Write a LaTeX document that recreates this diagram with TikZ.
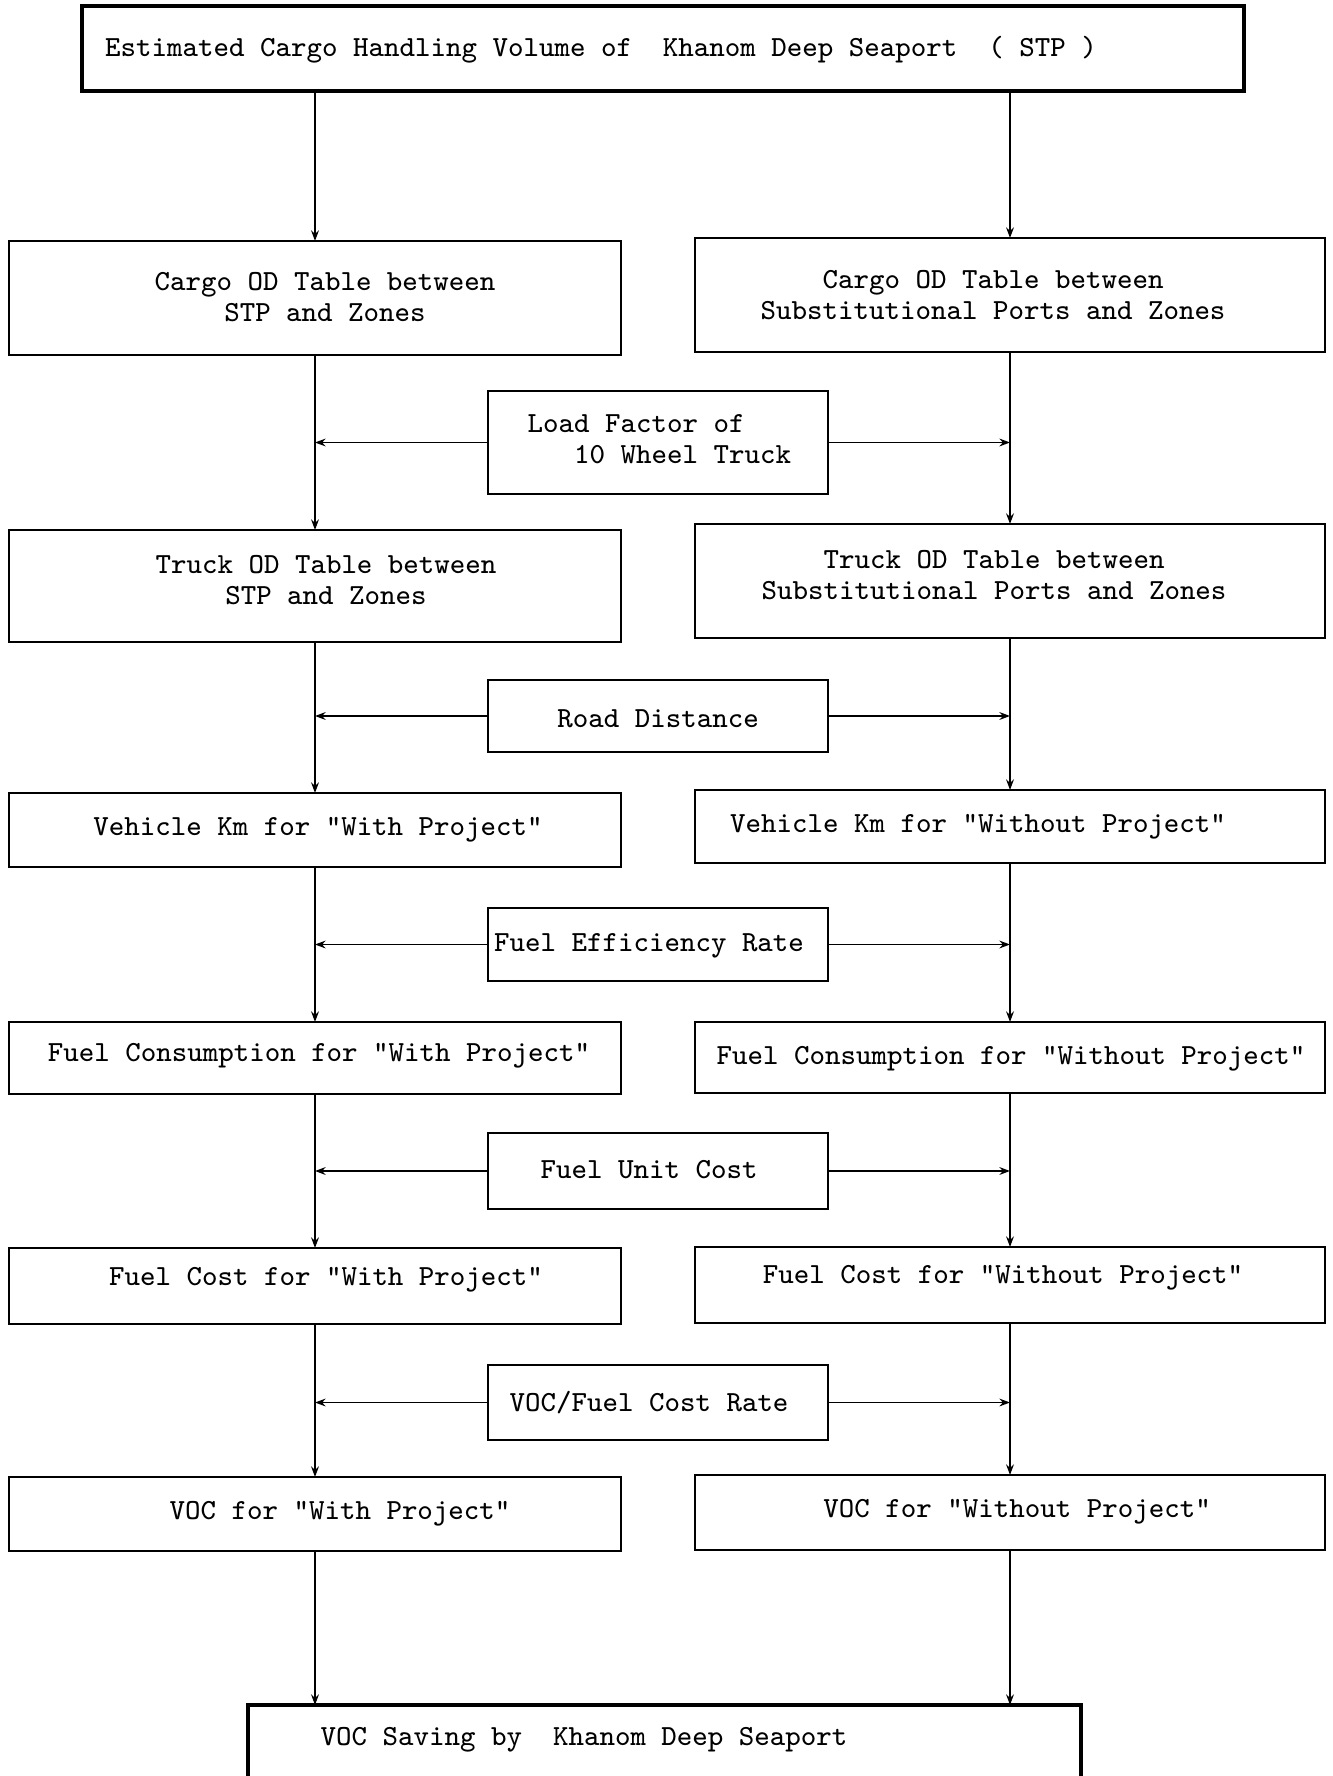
\documentclass[tikz,border=0pt]{standalone}
\usepackage{fontspec}
\usetikzlibrary{arrows.meta}
\newcommand{\mkbox}[6][]{\node[box,#1,minimum width={(#5-#3)*0.01cm},minimum height={(#6-#4)*0.01cm}] (#2) at ({(#3+#5)/2},{(#4+#6)/2}) {};}
\tikzset{
  box/.style={draw, line width=0.6pt, inner sep=0pt, outer sep=0pt, fill=none},
  heavy/.style={line width=1.1pt},
  txt/.style={font=\ttfamily\fontsize{8.3}{8.7}\selectfont, inner sep=0pt, align=center},
  arr/.style={line width=0.5pt, -{Stealth[length=3pt,width=2.2pt]}},
  ln/.style={line width=0.5pt}
}
\begin{document}
\begin{tikzpicture}[x=0.01cm,y=-0.01cm]
\clip (0,0) rectangle (1332,1776);
\fill[white] (0,0) rectangle (1332,1776);
% boxes
\mkbox[heavy]{top}{82}{6}{1244}{91}
\mkbox{cl}{9}{241}{621}{355}
\mkbox{cr}{695}{238}{1325}{352}
\mkbox{lf}{488}{391}{828}{494}
\mkbox{tl}{9}{530}{621}{642}
\mkbox{tr}{695}{524}{1325}{638}
\mkbox{rd}{488}{680}{828}{752}
\mkbox{vl}{9}{793}{621}{867}
\mkbox{vr}{695}{790}{1325}{863}
\mkbox{fe}{488}{908}{828}{981}
\mkbox{fcl}{9}{1022}{621}{1094}
\mkbox{fcr}{695}{1022}{1325}{1093}
\mkbox{fu}{488}{1133}{828}{1209}
\mkbox{col}{9}{1248}{621}{1324}
\mkbox{cor}{695}{1247}{1325}{1323}
\mkbox{vf}{488}{1365}{828}{1440}
\mkbox{vol}{9}{1477}{621}{1551}
\mkbox{vor}{695}{1475}{1325}{1550}
\mkbox[heavy]{sav}{248}{1705}{1081}{1820}
% texts
\node[txt] (t0) at (601,50) {Estimated Cargo Handling Volume of~~Khanom Deep Seaport~~( STP )};
\node[txt] (t1) at (325,297) {Cargo OD Table between\\STP and Zones};
\node[txt] (t2) at (993,295) {Cargo OD Table between\\Substitutional Ports and Zones};
\node[txt, align=left, anchor=west] (t3) at (527,439) {Load Factor of\\~~~10 Wheel Truck};
\node[txt] (t4) at (326,580) {Truck OD Table between\\STP and Zones};
\node[txt] (t5) at (994,575) {Truck OD Table between\\Substitutional Ports and Zones};
\node[txt] (t6) at (658,719) {Road Distance};
\node[txt] (t7) at (318,830) {Vehicle Km for "With Project"};
\node[txt] (t8) at (978,827) {Vehicle Km for "Without Project"};
\node[txt] (t9) at (649,946) {Fuel Efficiency Rate};
\node[txt] (t10) at (319,1056) {Fuel Consumption for "With Project"};
\node[txt] (t11) at (1011,1059) {Fuel Consumption for "Without Project"};
\node[txt] (t12) at (649,1170) {Fuel Unit Cost};
\node[txt] (t13) at (326,1280) {Fuel Cost for "With Project"};
\node[txt] (t14) at (1003,1278) {Fuel Cost for "Without Project"};
\node[txt] (t15) at (649,1403) {VOC/Fuel Cost Rate};
\node[txt] (t16) at (340,1514) {VOC for "With Project"};
\node[txt] (t17) at (1017,1512) {VOC for "Without Project"};
\node[txt] (t18) at (584,1740) {VOC Saving by~~Khanom Deep Seaport};
% vertical connectors
\draw[arr] (top.south -| cl.north) -- (cl.north);
\draw[arr] (top.south -| cr.north) -- (cr.north);
\draw[arr] (cl.south) -- (tl.north);
\draw[arr] (cr.south) -- (tr.north);
\draw[arr] (tl.south) -- (vl.north);
\draw[arr] (tr.south) -- (vr.north);
\draw[arr] (vl.south) -- (fcl.north);
\draw[arr] (vr.south) -- (fcr.north);
\draw[arr] (fcl.south) -- (col.north);
\draw[arr] (fcr.south) -- (cor.north);
\draw[arr] (col.south) -- (vol.north);
\draw[arr] (cor.south) -- (vor.north);
\draw[arr] (vol.south) -- (vol.south |- sav.north);
\draw[arr] (vor.south) -- (vor.south |- sav.north);
% horizontal connectors
\foreach \m in {lf,rd,fe,fu,vf}{
  \draw[arr] (\m.west) -- (\m.west -| cl.south);
  \draw[arr] (\m.east) -- (\m.east -| cr.south);
}
\end{tikzpicture}
\end{document}
